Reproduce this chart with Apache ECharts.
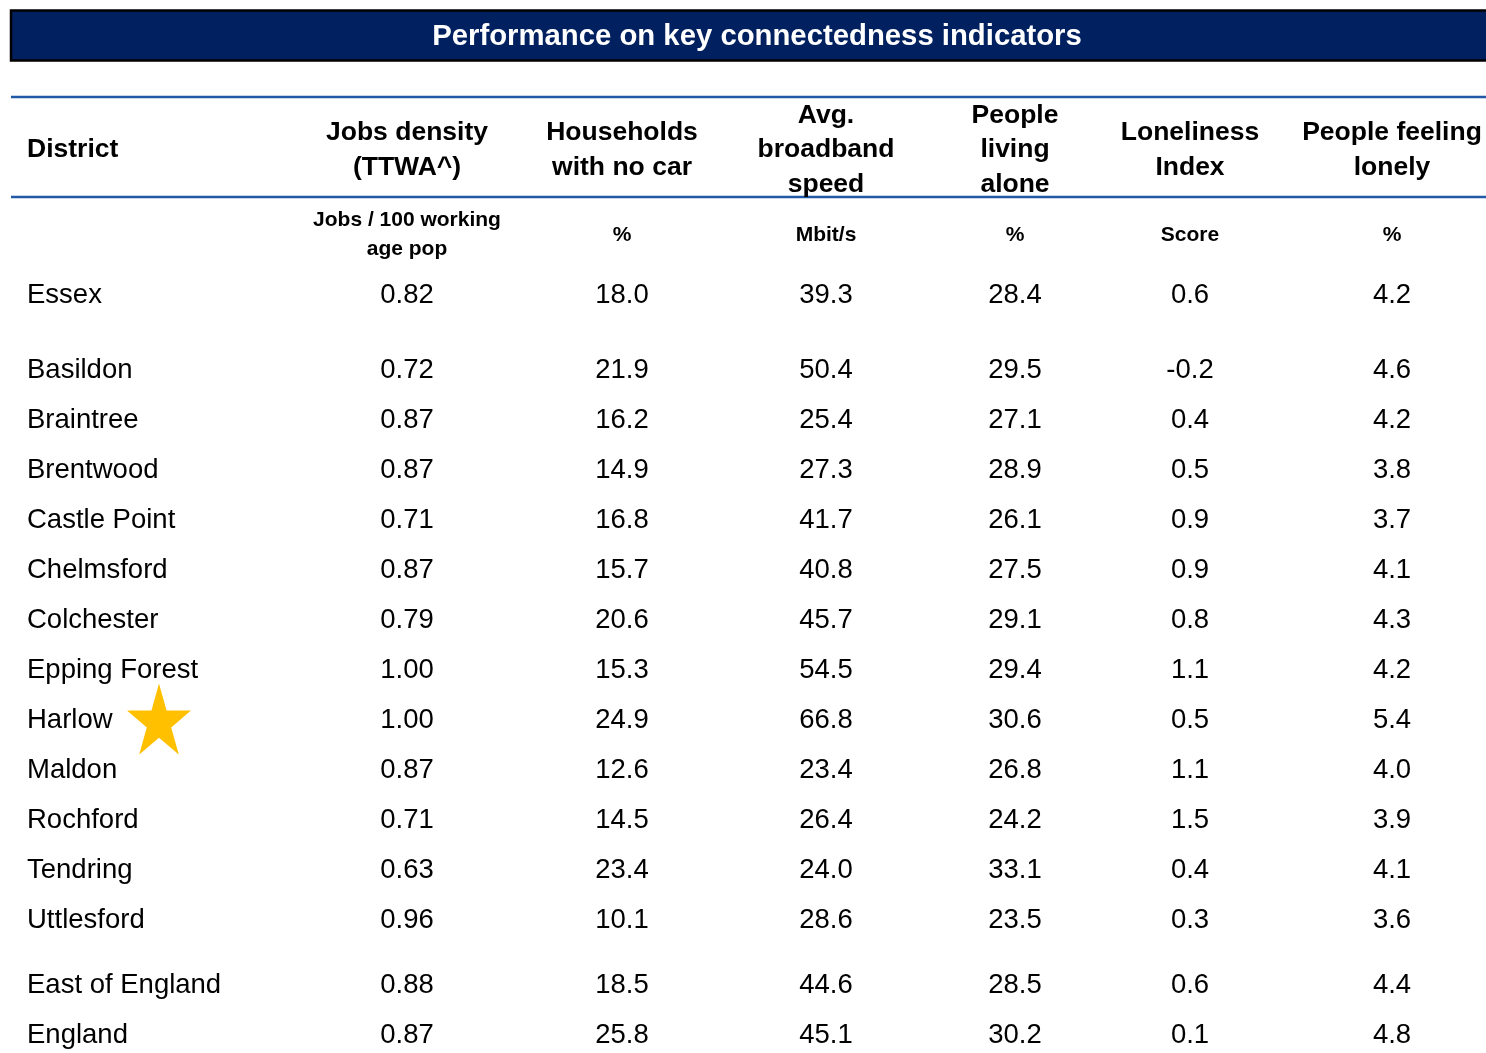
<!DOCTYPE html>
<html>
<head>
<meta charset="utf-8">
<script src="https://cdn.jsdelivr.net/npm/echarts@6/dist/echarts.min.js"></script>
<style>
  html, body { margin: 0; padding: 0; background: #ffffff; }
  #chart { width: 1486px; height: 1053px; }
</style>
</head>
<body>
<div id="chart"></div>
<script>
// ---------------- DATA ----------------
const titleText = 'Performance on key connectedness indicators';
const headers = ['District', 'Jobs density\n(TTWA^)', 'Households\nwith no car', 'Avg.\nbroadband\nspeed', 'People\nliving\nalone', 'Loneliness\nIndex', 'People feeling\nlonely'];
const units = ['', 'Jobs / 100 working\nage pop', '%', 'Mbit/s', '%', 'Score', '%'];
const districts = ['Essex', 'Basildon', 'Braintree', 'Brentwood', 'Castle Point', 'Chelmsford', 'Colchester', 'Epping Forest', 'Harlow', 'Maldon', 'Rochford', 'Tendring', 'Uttlesford', 'East of England', 'England'];
const jobsDensity = [0.82, 0.72, 0.87, 0.87, 0.71, 0.87, 0.79, 1.00, 1.00, 0.87, 0.71, 0.63, 0.96, 0.88, 0.87];
const noCar = [18.0, 21.9, 16.2, 14.9, 16.8, 15.7, 20.6, 15.3, 24.9, 12.6, 14.5, 23.4, 10.1, 18.5, 25.8];
const broadband = [39.3, 50.4, 25.4, 27.3, 41.7, 40.8, 45.7, 54.5, 66.8, 23.4, 26.4, 24.0, 28.6, 44.6, 45.1];
const livingAlone = [28.4, 29.5, 27.1, 28.9, 26.1, 27.5, 29.1, 29.4, 30.6, 26.8, 24.2, 33.1, 23.5, 28.5, 30.2];
const lonelinessIndex = [0.6, -0.2, 0.4, 0.5, 0.9, 0.9, 0.8, 1.1, 0.5, 1.1, 1.5, 0.4, 0.3, 0.6, 0.1];
const feelingLonely = [4.2, 4.6, 4.2, 3.8, 3.7, 4.1, 4.3, 4.2, 5.4, 4.0, 3.9, 4.1, 3.6, 4.4, 4.8];
const decimals = [null, 2, 1, 1, 1, 1, 1];
const groupSizes = [1, 12, 2];          // Essex | districts | comparators
const highlighted = 'Harlow';

// ---------------- LAYOUT / STYLE ----------------
const W = 1486, H = 1053;
const TABLE_LEFT = 10;
const COL_WIDTHS = [290, 214, 216, 192, 186, 164, 240];
const DISTRICT_PAD = 17;
const GROUP_GAPS = [0.5, 0.3];          // extra space after each group (in rows)
const ROW_PX = 50, FIRST_ROW_PX = 295;  // row pitch and first row centre
const HEADER_ROW = -2.9, UNIT_ROW = -1.2;
const FONT = 'Liberation Sans';
const NAVY = '#002060', RULE = '#2159a6', STAR = '#FFC000';
const STAR_PATH = 'path://M50 0 L61.23 34.55 L97.55 34.55 L68.16 55.9 L79.39 90.45 L50 69.1 L20.61 90.45 L31.84 55.9 L2.45 34.55 L38.77 34.55 Z';

const columns = [districts, jobsDensity, noCar, broadband, livingAlone, lonelinessIndex, feelingLonely];

// column anchors from widths
const colX = [];
let edge = TABLE_LEFT;
COL_WIDTHS.forEach((w, i) => { colX.push(i === 0 ? edge + DISTRICT_PAD : edge + w / 2); edge += w; });

// row positions from group structure
const rowPos = [];
let r = 0;
groupSizes.forEach((n, g) => {
  for (let k = 0; k < n; k++) { rowPos.push(r); r += 1; }
  if (g < GROUP_GAPS.length) r += GROUP_GAPS[g];
});

const yMin = -FIRST_ROW_PX / ROW_PX;
const yMax = (H - FIRST_ROW_PX) / ROW_PX;

const series = [];
const solid = { opacity: 1 };
// header + unit rows
series.push({
  type: 'scatter', symbolSize: 0, silent: true, z: 5, itemStyle: solid,
  data: headers.map((h, i) => ({
    value: [colX[i], HEADER_ROW], name: h,
    label: { position: i === 0 ? 'right' : 'inside', distance: 0, align: i === 0 ? 'left' : 'center' }
  })),
  label: { show: true, formatter: p => p.name, fontFamily: FONT, fontWeight: 'bold', fontSize: 26.5, lineHeight: 34.5, color: '#000', opacity: 1, verticalAlign: 'middle' }
});
series.push({
  type: 'scatter', symbolSize: 0, silent: true, z: 5, itemStyle: solid,
  data: units.map((u, i) => ({ value: [colX[i], UNIT_ROW], name: u })),
  label: { show: true, position: 'inside', formatter: p => p.name, fontFamily: FONT, fontWeight: 'bold', fontSize: 21, lineHeight: 29, color: '#000', opacity: 1, verticalAlign: 'middle', align: 'center' }
});
// body columns
columns.forEach((col, ci) => {
  series.push({
    type: 'scatter', symbolSize: 0, silent: true, z: 5, itemStyle: solid,
    data: col.map((v, ri) => ({ value: [colX[ci], rowPos[ri]], raw: v })),
    label: {
      show: true,
      position: ci === 0 ? 'right' : 'inside',
      distance: 0,
      align: ci === 0 ? 'left' : 'center',
      verticalAlign: 'middle',
      formatter: p => ci === 0 ? p.data.raw : p.data.raw.toFixed(decimals[ci]),
      fontFamily: FONT, fontSize: 27.5, color: '#000', opacity: 1
    }
  });
});
// highlight star
const hi = districts.indexOf(highlighted);
series.push({
  type: 'scatter', silent: true, z: 6,
  symbol: STAR_PATH, symbolSize: [64, 71], symbolOffset: [132, -1],
  itemStyle: { color: STAR, opacity: 1 },
  data: [[colX[0], rowPos[hi]]]
});

const chart = echarts.init(document.getElementById('chart'), null, { renderer: 'canvas' });
chart.setOption({
  animation: false,
  backgroundColor: '#ffffff',
  grid: { left: 0, right: 0, top: 0, bottom: 0 },
  xAxis: { type: 'value', min: 0, max: W, show: false },
  yAxis: { type: 'value', inverse: true, min: yMin, max: yMax, show: false },
  graphic: [
    { type: 'rect', shape: { x: 11, y: 10.5, width: 1485, height: 50 }, style: { fill: NAVY, stroke: '#000', lineWidth: 2.5 }, silent: true },
    { type: 'text', x: 757, y: 37, style: { text: titleText, fill: '#fff', fontFamily: FONT, fontWeight: 'bold', fontSize: 29.3, align: 'center', verticalAlign: 'middle' }, silent: true },
    { type: 'line', shape: { x1: 11, y1: 97, x2: W, y2: 97 }, style: { stroke: RULE, lineWidth: 2.5 }, silent: true },
    { type: 'line', shape: { x1: 11, y1: 197, x2: W, y2: 197 }, style: { stroke: RULE, lineWidth: 2.5 }, silent: true }
  ],
  series: series
});
</script>
</body>
</html>
